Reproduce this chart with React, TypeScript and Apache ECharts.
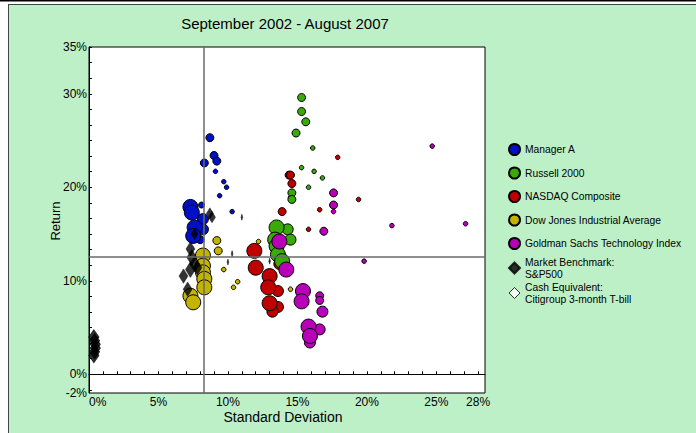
import React, { useEffect, useRef } from "react";
import * as echarts from "echarts";

// ---- data: [std dev %, return %, recency weight 1..5] ----
const managerA = [
  [9.1, 21.7, 1], [9.7, 20.6, 1], [9.9, 20.0, 1], [9.4, 19.1, 1], [10.3, 17.4, 1],
  [8.7, 25.3, 3], [9.0, 23.4, 3], [8.3, 22.6, 3], [9.2, 22.8, 3], [8.1, 18.1, 2],
  [8.0, 14.4, 3], [8.2, 16.6, 4], [8.2, 15.5, 4],
  [7.3, 17.9, 5], [7.4, 17.3, 5], [7.6, 15.7, 5], [7.5, 14.8, 5],
];
const russell2000 = [
  [16.1, 24.2, 1], [15.3, 22.1, 1], [16.2, 21.7, 1], [16.8, 21.0, 1], [15.8, 20.0, 1],
  [15.3, 29.6, 3], [15.3, 28.1, 3], [15.6, 27.0, 3], [14.9, 25.8, 3], [14.6, 19.4, 3], [14.6, 18.7, 3],
  [14.3, 15.5, 4], [14.5, 14.4, 4],
  [13.5, 15.7, 5], [13.4, 14.4, 5], [13.5, 13.7, 5], [13.6, 12.8, 5], [13.9, 12.1, 5],
];
const nasdaq = [
  [14.5, 18.9, 1], [17.9, 23.2, 1], [19.4, 18.7, 1], [16.6, 17.6, 1], [15.8, 15.5, 1],
  [14.4, 21.3, 3], [14.5, 21.3, 3], [14.6, 20.4, 3], [13.9, 17.4, 3],
  [13.7, 11.8, 4], [13.6, 8.9, 4], [13.6, 7.2, 4], [13.2, 6.7, 4],
  [11.9, 13.2, 5], [12.0, 11.4, 5], [13.0, 10.5, 5], [12.9, 9.3, 5], [13.0, 7.6, 5],
];
const dowJones = [
  [9.7, 11.2, 1], [12.2, 14.2, 1], [10.7, 9.9, 1], [10.4, 9.3, 1], [14.5, 9.1, 1],
  [9.2, 14.3, 3], [9.3, 13.2, 3],
  [8.2, 12.7, 5], [8.2, 11.6, 5], [8.2, 10.9, 5], [8.3, 10.2, 5], [8.3, 9.3, 5],
  [7.3, 8.4, 5], [7.5, 7.7, 5],
];
const goldmanTech = [
  [24.7, 24.4, 1], [27.1, 16.1, 1], [21.8, 15.9, 1], [19.8, 12.1, 1], [17.6, 17.4, 1],
  [17.6, 19.4, 3], [17.6, 18.1, 3], [16.9, 15.3, 3], [16.6, 8.4, 3], [16.6, 7.9, 3],
  [16.8, 6.7, 4], [16.6, 4.8, 4], [15.9, 3.4, 4],
  [13.7, 14.2, 5], [14.2, 11.2, 5], [15.4, 8.9, 5], [15.3, 7.8, 5], [15.8, 5.1, 5], [15.9, 4.1, 5],
];
const sp500 = [
  [11.0, 16.8, 1], [10.3, 12.9, 1], [10.0, 12.0, 1], [13.0, 12.1, 1],
  [8.7, 17.2, 3], [8.85, 16.8, 3], [7.6, 15.0, 3],
  [7.3, 13.4, 4], [7.4, 12.5, 5], [7.6, 11.8, 5], [7.8, 11.4, 4], [7.3, 11.2, 5],
  [6.8, 10.5, 4], [7.1, 9.1, 4],
];
const tBill = [
  [0.35, 2.0], [0.4, 2.4], [0.45, 2.8], [0.45, 3.2], [0.4, 3.6], [0.35, 4.0],
];

const X_LABELS = [0, 5, 10, 15, 20, 25, 28];
const Y_LABELS = [-2, 0, 10, 20, 30, 35];
const CROSS_X = 8.24;
const CROSS_Y = 12.6;

const NAMES = {
  a: "Manager A",
  r: "Russell 2000",
  n: "NASDAQ Composite",
  d: "Dow Jones Industrial Average",
  g: "Goldman Sachs Technology Index",
  s: "Market Benchmark:\nS&P500",
  t: "Cash Equivalent:\nCitigroup 3-month T-bill",
};

const BUBBLE_PX = [0, 4.5, 6, 8, 11, 15];
const DIAMOND_W = [0, 1.6, 5, 7, 9, 10];
const FONT = "'Liberation Sans', Arial, sans-serif";

export default function App() {
  const ref = useRef<HTMLDivElement>(null);
  useEffect(() => {
    if (!ref.current) return;
    const chart = echarts.init(ref.current, undefined, { renderer: "svg" });
    const bubble = (name: string, data: number[][], color: string) => ({
      name,
      type: "scatter",
      data,
      symbol: "circle",
      symbolSize: (v: number[]) => BUBBLE_PX[v[2]],
      itemStyle: { color, borderColor: "#000", borderWidth: 1, opacity: 1 },
      z: 3,
    });
    const xTicks: number[] = [];
    for (let i = 0; i <= 28; i++) xTicks.push(i);
    const yTicks: number[] = [];
    for (let i = -1; i <= 21; i++) yTicks.push((i * 5) / 3);

    const legendText = { fontSize: 10.3, color: "#000", fontFamily: FONT, lineHeight: 12 };

    chart.setOption({
      animation: false,
      backgroundColor: "#bef0c8",
      textStyle: { fontFamily: FONT },
      title: {
        text: "September 2002 - August 2007",
        left: 280,
        textAlign: "center",
        top: 11,
        textStyle: { fontSize: 15, fontWeight: "normal", color: "#000", fontFamily: FONT },
      },
      graphic: [
        { type: "rect", shape: { x: 0, y: 0, width: 8, height: 433 }, style: { fill: "#fff" }, silent: true },
        { type: "rect", shape: { x: 0, y: 0, width: 696, height: 4 }, style: { fill: "#fff" }, silent: true },
        { type: "rect", shape: { x: 0, y: 0, width: 696, height: 1.5 }, style: { fill: "#000" }, silent: true },
        { type: "line", shape: { x1: 8.5, y1: 4, x2: 8.5, y2: 433 }, style: { stroke: "#444", lineWidth: 1 }, silent: true },
        { type: "line", shape: { x1: 8, y1: 4.5, x2: 696, y2: 4.5 }, style: { stroke: "#444", lineWidth: 1 }, silent: true },
      ],
      grid: {
        left: 89,
        top: 47,
        width: 396,
        height: 346,
        show: true,
        backgroundColor: "#fff",
        borderColor: "#000",
        borderWidth: 1,
      },
      legend: [
        {
          orient: "vertical",
          left: 508,
          top: 143,
          padding: 0,
          itemGap: 10.5,
          itemWidth: 11,
          itemHeight: 11,
          textStyle: legendText,
          data: [
            { name: NAMES.a, icon: "circle" },
            { name: NAMES.r, icon: "circle" },
            { name: NAMES.n, icon: "circle" },
            { name: NAMES.d, icon: "circle" },
            { name: NAMES.g, icon: "circle" },
          ],
        },
        {
          orient: "vertical",
          left: 508,
          top: 256,
          padding: 0,
          itemGap: 1,
          itemWidth: 11,
          itemHeight: 11,
          textStyle: legendText,
          data: [
            { name: NAMES.s, icon: "diamond" },
            { name: NAMES.t, icon: "diamond", itemStyle: { color: "#fff", borderColor: "#000", borderWidth: 1 } },
          ],
        },
      ],
      xAxis: {
        type: "value",
        min: 0,
        max: 28.5,
        name: "Standard Deviation",
        nameLocation: "middle",
        nameGap: 17,
        nameMoveOverlap: false,
        nameTextStyle: { fontSize: 14, color: "#000", fontFamily: FONT, padding: [0, 8, 0, 0] },
        axisLine: { show: true, lineStyle: { color: "#000", width: 1 } },
        axisTick: { show: true, inside: true, length: 3, customValues: xTicks, lineStyle: { color: "#000" } },
        axisLabel: {
          customValues: X_LABELS,
          formatter: (v: number) => v + "%",
          color: "#000",
          fontSize: 12,
          margin: 3,
          alignMinLabel: "left",
          showMaxLabel: true,
          fontFamily: FONT,
        },
        splitLine: { show: false },
      },
      yAxis: {
        type: "value",
        min: -2,
        max: 35,
        name: "Return",
        nameLocation: "middle",
        nameGap: 27,
        nameMoveOverlap: false,
        nameTextStyle: { fontSize: 13, color: "#000", fontFamily: FONT, padding: [0, 2, 0, 0] },
        axisLine: { show: true, lineStyle: { color: "#000", width: 1 } },
        axisTick: { show: true, inside: true, length: 3, customValues: yTicks, lineStyle: { color: "#000" } },
        axisLabel: {
          customValues: Y_LABELS,
          formatter: (v: number) => v + "%",
          color: "#000",
          fontSize: 12,
          margin: 2,
          fontFamily: FONT,
        },
        splitLine: { show: false },
      },
      series: [
        {
          name: "crosshair",
          type: "scatter",
          data: [],
          z: 1,
          markLine: {
            silent: true,
            symbol: ["none", "none"],
            label: { show: false },
            lineStyle: { color: "#6a6a6a", width: 1.5, type: "solid" },
            data: [{ xAxis: CROSS_X }, { yAxis: CROSS_Y }],
          },
        },
        bubble(NAMES.a, managerA, "#0010c8"),
        bubble(NAMES.n, nasdaq, "#c00000"),
        bubble(NAMES.r, russell2000, "#3aaa0a"),
        bubble(NAMES.d, dowJones, "#c2b400"),
        bubble(NAMES.g, goldmanTech, "#b800b8"),
        {
          name: NAMES.s,
          type: "scatter",
          data: sp500,
          symbol: "diamond",
          symbolSize: (v: number[]) => {
            const w = DIAMOND_W[v[2]];
            return [w, v[2] === 1 ? 6 : w * 1.6];
          },
          itemStyle: { color: "#000", borderColor: "#000", borderWidth: 0.5 },
          z: 4,
        },
        {
          name: NAMES.t,
          type: "scatter",
          data: tBill,
          symbol: "diamond",
          symbolSize: [10, 14],
          itemStyle: { color: "#000", borderColor: "#000", borderWidth: 1 },
          z: 4,
        },
      ],
    });
    return () => chart.dispose();
  }, []);
  return (
    <div
      ref={ref}
      style={{ position: "absolute", left: 0, top: 0, width: 696, height: 433 }}
    />
  );
}
